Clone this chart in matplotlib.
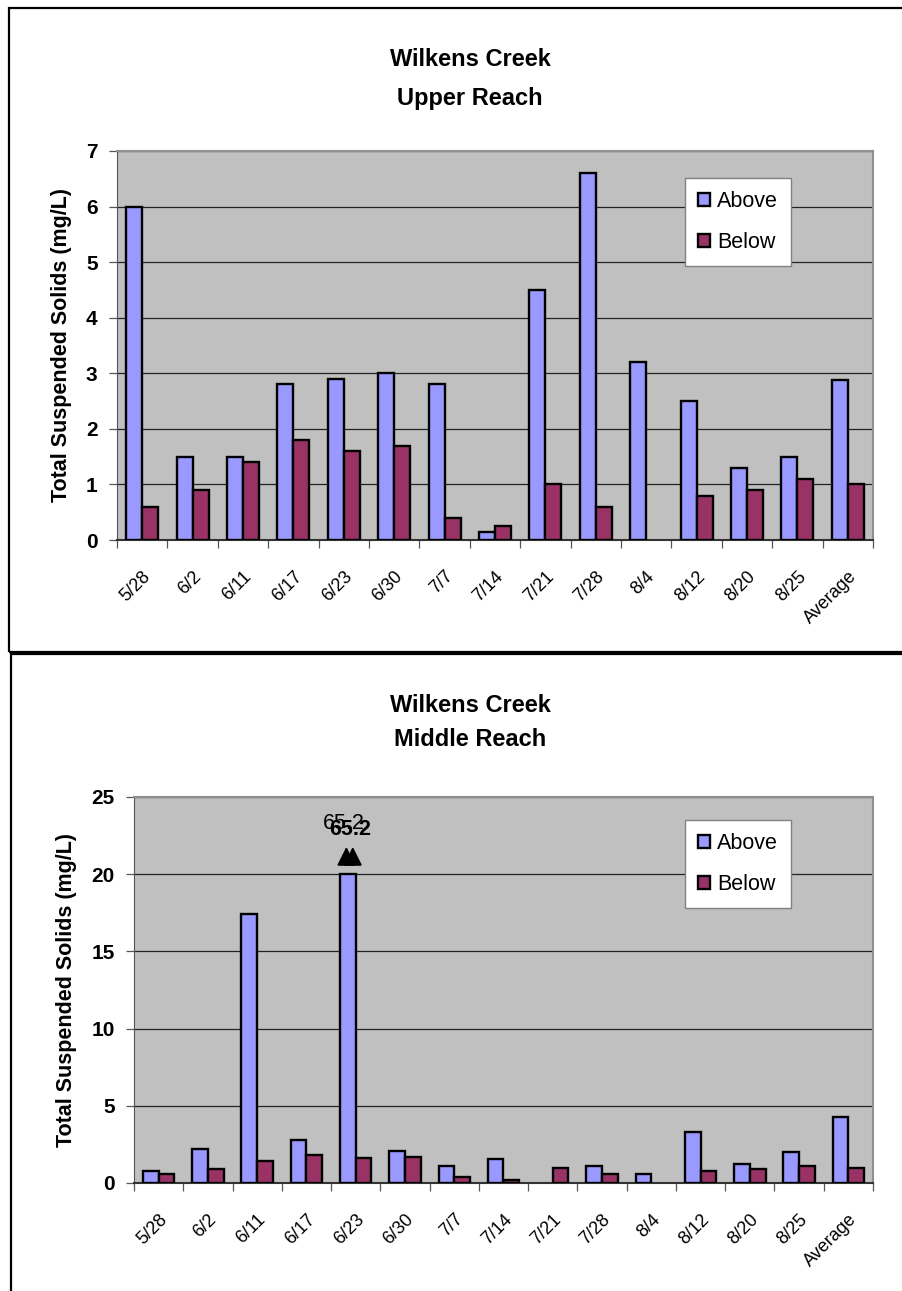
import numpy as np
import matplotlib
matplotlib.use("Agg")
import matplotlib.pyplot as plt
import matplotlib.transforms as mtransforms
from matplotlib.patches import Rectangle

plt.rcParams['font.family'] = ['Liberation Sans', 'DejaVu Sans']

dates = ["5/28", "6/2", "6/11", "6/17", "6/23", "6/30", "7/7", "7/14",
         "7/21", "7/28", "8/4", "8/12", "8/20", "8/25", "Average"]

upper_above = [6.0, 1.5, 1.5, 2.8, 2.9, 3.0, 2.8, 0.15, 4.5, 6.6, 3.2, 2.5, 1.3, 1.5, 2.88]
upper_below = [0.6, 0.9, 1.4, 1.8, 1.6, 1.7, 0.4, 0.25, 1.0, 0.6, 0.0, 0.8, 0.9, 1.1, 1.0]

middle_above = [0.8, 2.2, 17.4, 2.8, 65.2, 2.1, 1.1, 1.55, 0.0, 1.1, 0.6, 3.3, 1.2, 2.0, 4.3]
middle_below = [0.6, 0.9, 1.4, 1.8, 1.6, 1.7, 0.4, 0.2, 1.0, 0.6, 0.0, 0.8, 0.9, 1.1, 1.0]

ABOVE_C = "#9999FF"
BELOW_C = "#993366"
PLOT_BG = "#C0C0C0"

W, H = 902, 1291
fig = plt.figure(figsize=(W / 100, H / 100), dpi=100)


def frac_rect(left, top, right, bottom):
    return [left / W, 1 - bottom / H, (right - left) / W, (bottom - top) / H]


def draw_panel(rect, above, below, ymax, ystep, cap=None):
    ax = fig.add_axes(rect)
    ax.set_facecolor(PLOT_BG)
    x = np.arange(len(dates))
    bw = 0.318
    above_plot = [min(v, cap) if cap else v for v in above]
    # no outline for empty (zero) samples
    lw_a = [1.7 if v > 0 else 0 for v in above_plot]
    lw_b = [1.7 if v > 0 else 0 for v in below]
    ax.bar(x - bw / 2, above_plot, bw, color=ABOVE_C, edgecolor="black",
           linewidth=lw_a, label="Above", zorder=3)
    ax.bar(x + bw / 2, below, bw, color=BELOW_C, edgecolor="black",
           linewidth=lw_b, label="Below", zorder=3)
    ax.set_xlim(-0.5, len(dates) - 0.5)
    ax.set_ylim(0, ymax)
    yt = np.arange(0, ymax + 0.01, ystep)
    ax.set_yticks(yt)
    ax.set_yticklabels([f"{v:g}" for v in yt], fontsize=15, fontweight="bold")
    for v in yt[1:]:
        ax.axhline(v, color="#222222", lw=0.9, zorder=1)
    ax.set_xticks(x)
    ax.set_xticklabels(dates, rotation=45, ha="right", rotation_mode="anchor",
                       fontsize=13)
    shift = mtransforms.ScaledTranslation(-4 / 100, 0, fig.dpi_scale_trans)
    for lab in ax.get_xticklabels():
        lab.set_transform(lab.get_transform() + shift)
    ax.set_xticks(np.arange(-0.5, len(dates)), minor=True)
    ax.tick_params(axis="x", which="major", length=0, pad=20)
    ax.tick_params(axis="x", which="minor", length=6, width=0.9, color="#555555")
    ax.tick_params(axis="y", length=6, width=0.9, color="#555555", pad=8)
    ax.spines["top"].set_color("#909090")
    ax.spines["right"].set_color("#909090")
    ax.spines["top"].set_linewidth(1.5)
    ax.spines["right"].set_linewidth(1.5)
    ax.spines["left"].set_color("#555555")
    ax.spines["bottom"].set_color("#333333")
    ax.spines["bottom"].set_linewidth(1.5)
    ax.set_ylabel("Total Suspended Solids (mg/L)", fontsize=15.5,
                  fontweight="bold", labelpad=10)
    return ax, x, bw


def add_legend(ax, left, top):
    leg = ax.legend(loc="upper left",
                    bbox_to_anchor=(left / W, 1 - top / H),
                    bbox_transform=fig.transFigure,
                    fontsize=15.5, handlelength=0.55, handleheight=0.55,
                    handletextpad=0.35, labelspacing=0.95, borderpad=0.6,
                    fancybox=False, framealpha=1, edgecolor="#808080",
                    borderaxespad=0)
    leg.get_frame().set_linewidth(1.0)
    return leg


# Outer chart frames
fig.add_artist(Rectangle((9 / W, 1 - 652 / H), 1.0, (652 - 8) / H,
                         transform=fig.transFigure, fill=False,
                         edgecolor="black", lw=1.6))
fig.add_artist(Rectangle((11 / W, -0.1), 1.0, 0.1 + (1 - 654 / H),
                         transform=fig.transFigure, fill=False,
                         edgecolor="black", lw=1.6))

# Upper reach
ax1, x1, bw1 = draw_panel(frac_rect(117, 151, 873, 540), upper_above,
                          upper_below, 7, 1)
add_legend(ax1, 685, 178)
fig.text(470 / W, 1 - 60 / H, "Wilkens Creek", ha="center", va="center",
         fontsize=17, fontweight="bold")
fig.text(470 / W, 1 - 98 / H, "Upper Reach", ha="center", va="center",
         fontsize=17, fontweight="bold")

# Middle reach (axis capped at 20; off-scale value annotated)
CAP = 20
ax2, x2, bw2 = draw_panel(frac_rect(134, 797, 873, 1183), middle_above,
                          middle_below, 25, 5, cap=CAP)
add_legend(ax2, 685, 820)
fig.text(470 / W, 1 - 705 / H, "Wilkens Creek", ha="center", va="center",
         fontsize=17, fontweight="bold")
fig.text(470 / W, 1 - 739 / H, "Middle Reach", ha="center", va="center",
         fontsize=17, fontweight="bold")

for i, v in enumerate(middle_above):
    if v > CAP:
        xc = x2[i] - bw2 / 2
        for dx in (-0.03, 0.1):
            ax2.annotate("", xy=(xc + dx, 21.95), xytext=(xc + dx, 20.6),
                         arrowprops=dict(arrowstyle="-|>", color="black",
                                         lw=1.5, mutation_scale=28),
                         annotation_clip=False, zorder=5)
        ax2.text(xc - 0.08, 23.3, f"{v:g}", ha="center", va="center",
                 fontsize=15.5, zorder=6, clip_on=False)
        ax2.text(xc + 0.04, 22.9, f"{v:g}", ha="center", va="center",
                 fontsize=15.5, fontweight="bold", zorder=6, clip_on=False)

fig.savefig("out.png", dpi=100)
